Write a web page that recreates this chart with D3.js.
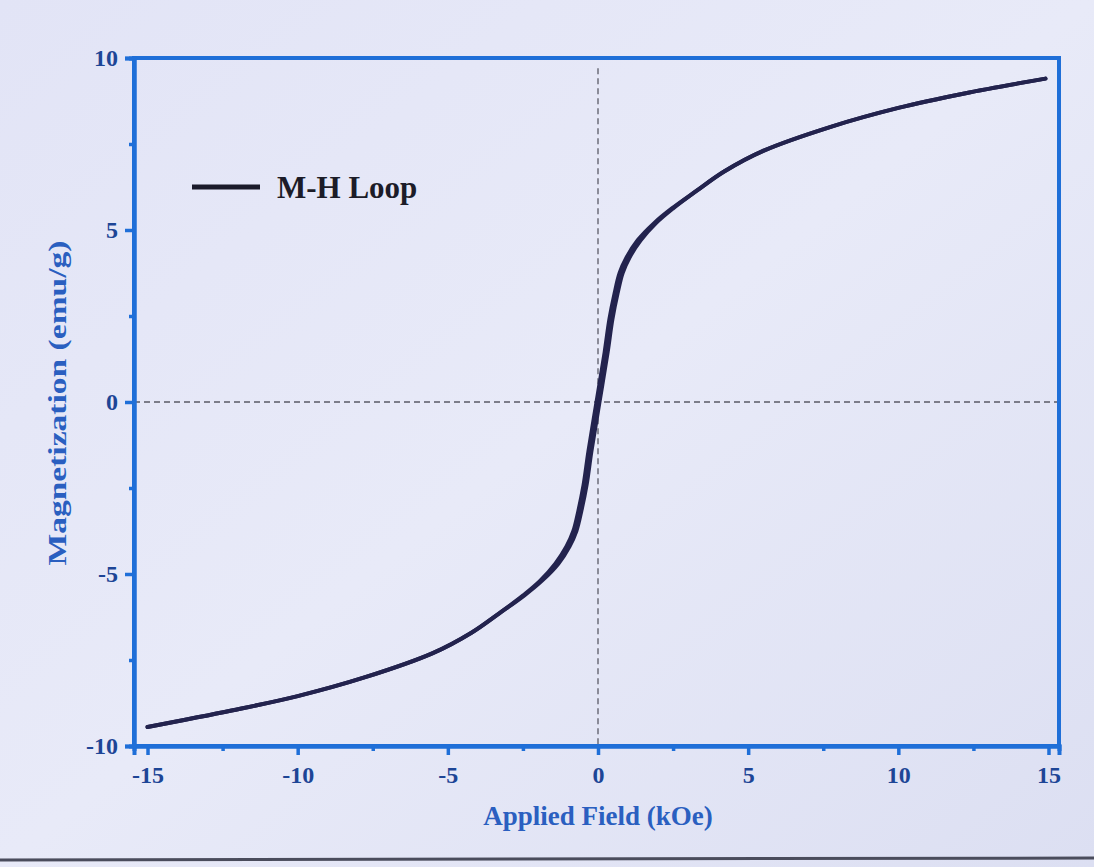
<!DOCTYPE html>
<html>
<head>
<meta charset="utf-8">
<script src="https://cdn.jsdelivr.net/npm/d3@7"></script>
<style>
  html, body { margin: 0; padding: 0; background: #e4e6f6; }
  svg { display: block; }
</style>
</head>
<body>
<svg id="chart" width="1094" height="867"></svg>
<script>
// ---- data ----
const seriesName = "M-H Loop";
// Magnetization values (emu/g) shared by both branches
const magnetization = [-9.45, -8.97, -8.55, -8.0, -7.3, -6.7, -6.15, -5.62, -5.2, -4.7, -4.2, -3.75, -3.15, -2.41, -1.44, 0, 1.44, 2.41, 3.15, 3.75, 4.2, 4.7, 5.2, 5.62, 6.15, 6.7, 7.3, 8.0, 8.55, 8.97, 9.4];
// Applied field (kOe), ascending branch
const fieldUp =   [-15, -12.2, -10, -7.75, -5.5, -4.2, -3.3, -2.45, -1.87, -1.32, -0.95, -0.72, -0.55, -0.38, -0.22, 0.05, 0.32, 0.48, 0.65, 0.82, 1.05, 1.42, 1.93, 2.49, 3.3, 4.2, 5.5, 7.75, 10, 12.2, 14.9];
// Applied field (kOe), descending branch
const fieldDown = [-15, -12.2, -10, -7.75, -5.5, -4.2, -3.3, -2.49, -1.93, -1.42, -1.05, -0.82, -0.65, -0.48, -0.32, -0.05, 0.22, 0.38, 0.55, 0.72, 0.95, 1.32, 1.87, 2.45, 3.3, 4.2, 5.5, 7.75, 10, 12.2, 14.9];
const xTicks = [-15, -10, -5, 0, 5, 10, 15];
const xMinor = [-12.5, -7.5, -2.5, 2.5, 7.5, 12.5];
const yTicks = [-10, -5, 0, 5, 10];
const yMinor = [-7.5, -2.5, 2.5, 7.5];

// ---- layout ----
const svg = d3.select("#chart");
const W = 1094, H = 867;
const m = { left: 134, top: 58, right: 35, bottom: 121 };
const axisBlue = "#1f6fd8";
const labelBlue = "#1d4596";
const titleBlue = "#2a5fc0";
const font = "'Liberation Serif', 'Times New Roman', serif";
const fmt = d => String(d);

// background photo tint
const defs = svg.append("defs");
const g0 = defs.append("linearGradient").attr("id", "bg").attr("x1", 0).attr("y1", 0).attr("x2", 1).attr("y2", 1);
g0.append("stop").attr("offset", "0%").attr("stop-color", "#e2e4f6");
g0.append("stop").attr("offset", "50%").attr("stop-color", "#e8eaf8");
g0.append("stop").attr("offset", "100%").attr("stop-color", "#dcdff2");
svg.append("rect").attr("width", W).attr("height", H).attr("fill", "url(#bg)");
svg.append("line").attr("x1", 0).attr("x2", W).attr("y1", 860).attr("y2", 858)
  .attr("stroke", "#4a4c5c").attr("stroke-width", 3);

const x = d3.scaleLinear().domain([-15.45, 15.35]).range([m.left, W - m.right]);
const y = d3.scaleLinear().domain([-10, 10]).range([H - m.bottom, m.top]);

// zero dashed lines
svg.append("line")
  .attr("x1", x(0)).attr("x2", x(0)).attr("y1", y(9.7)).attr("y2", y(-10))
  .attr("stroke", "#5a5a66").attr("stroke-width", 1.3).attr("stroke-dasharray", "6,4");
svg.append("line")
  .attr("x1", x(-15.45)).attr("x2", x(15.3)).attr("y1", y(0)).attr("y2", y(0))
  .attr("stroke", "#5a5a66").attr("stroke-width", 1.3).attr("stroke-dasharray", "6,4");

// curve
const line = d3.line().x(d => x(d[0])).y(d => y(d[1])).curve(d3.curveCatmullRom.alpha(0.5));
const curveColor = "#23234e";
[fieldUp, fieldDown].forEach(hs => {
  svg.append("path")
    .datum(hs.map((h, i) => [h, magnetization[i]]))
    .attr("d", line)
    .attr("fill", "none")
    .attr("stroke", curveColor)
    .attr("stroke-width", 4)
    .attr("stroke-linecap", "round");
});

// frame (top & right)
svg.append("rect")
  .attr("x", m.left).attr("y", m.top)
  .attr("width", W - m.left - m.right).attr("height", H - m.top - m.bottom)
  .attr("fill", "none").attr("stroke", axisBlue).attr("stroke-width", 4);

// bottom axis
const xAxis = svg.append("g").attr("transform", `translate(0,${H - m.bottom})`)
  .call(d3.axisBottom(x).tickValues(xTicks).tickSize(9).tickPadding(11).tickFormat(fmt));
const xAxisMinor = svg.append("g").attr("transform", `translate(0,${H - m.bottom})`)
  .call(d3.axisBottom(x).tickValues(xMinor).tickSize(5).tickFormat(""));
// left axis
const yAxis = svg.append("g").attr("transform", `translate(${m.left},0)`)
  .call(d3.axisLeft(y).tickValues(yTicks).tickSize(9).tickPadding(7).tickFormat(fmt));
const yAxisMinor = svg.append("g").attr("transform", `translate(${m.left},0)`)
  .call(d3.axisLeft(y).tickValues(yMinor).tickSize(5).tickFormat(""));

[xAxis, xAxisMinor, yAxis, yAxisMinor].forEach(a => {
  a.select(".domain").attr("stroke", axisBlue).attr("stroke-width", 4);
  a.selectAll(".tick line").attr("stroke", axisBlue).attr("stroke-width", 3.5);
  a.selectAll(".tick text")
    .attr("fill", labelBlue)
    .style("font-family", font).style("font-weight", "bold").style("font-size", "24px");
});

// axis titles
svg.append("text")
  .attr("x", x(0)).attr("y", 825)
  .attr("text-anchor", "middle")
  .attr("fill", titleBlue)
  .style("font-family", font).style("font-weight", "bold").style("font-size", "27px")
  .text("Applied Field (kOe)");
svg.append("text")
  .attr("transform", `translate(66,403) rotate(-90)`)
  .attr("text-anchor", "middle")
  .attr("fill", titleBlue)
  .attr("textLength", 325).attr("lengthAdjust", "spacingAndGlyphs")
  .style("font-family", font).style("font-weight", "bold").style("font-size", "26px")
  .text("Magnetization (emu/g)");

// legend
svg.append("line")
  .attr("x1", 192).attr("x2", 260).attr("y1", 187).attr("y2", 187)
  .attr("stroke", "#1a1a2a").attr("stroke-width", 5);
svg.append("text")
  .attr("x", 277).attr("y", 198)
  .attr("fill", "#1c1c28")
  .style("font-family", font).style("font-weight", "bold").style("font-size", "31px")
  .text(seriesName);
</script>
</body>
</html>
